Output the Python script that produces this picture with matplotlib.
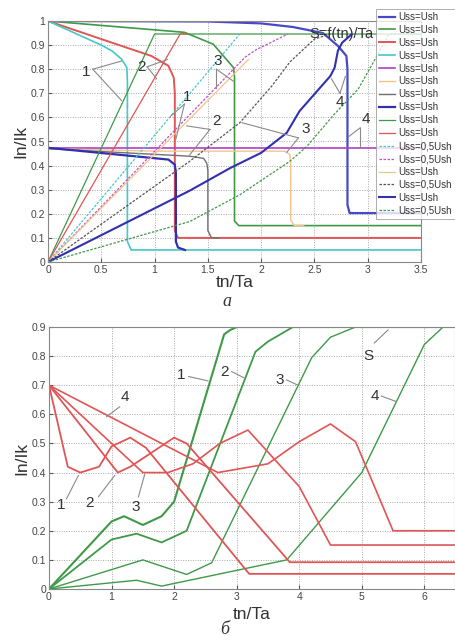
import matplotlib
matplotlib.use("Agg")
import matplotlib.pyplot as plt

plt.rcParams['font.family'] = ['Liberation Sans', 'DejaVu Sans']

# ---------------- data: panel a ----------------
a_blue_desc_x = [0, 1.5, 2.0, 2.3, 2.58, 2.72, 2.80, 2.81, 2.81, 2.83, 3.5]
a_blue_desc_y = [1.0, 0.998, 0.99, 0.975, 0.95, 0.897, 0.855, 0.80, 0.237, 0.203, 0.203]
a_green_desc_x = [0, 1.28, 1.55, 1.74, 1.75, 1.75, 1.79, 3.5]
a_green_desc_y = [1.0, 0.953, 0.904, 0.807, 0.77, 0.17, 0.151, 0.151]
a_red_desc_x = [0, 0.3, 0.6, 0.97, 1.13, 1.18, 1.19, 1.19, 1.22, 3.5]
a_red_desc_y = [1.0, 0.955, 0.91, 0.855, 0.814, 0.765, 0.70, 0.13, 0.10, 0.10]
a_cyan_desc_x = [0, 0.25, 0.5, 0.6, 0.69, 0.74, 0.745, 0.745, 0.78, 3.5]
a_cyan_desc_y = [1.0, 0.95, 0.9, 0.876, 0.842, 0.807, 0.75, 0.085, 0.05, 0.05]
a_purple_x = [0, 3.5]
a_purple_y = [0.474, 0.474]
a_orange_desc_x = [0, 1.0, 2.22, 2.27, 2.277, 2.277, 2.31, 2.4]
a_orange_desc_y = [0.47, 0.46, 0.46, 0.446, 0.41, 0.175, 0.151, 0.151]
a_gray_desc_x = [0, 1.33, 1.46, 1.49, 1.50, 1.50, 1.535, 1.6]
a_gray_desc_y = [0.47, 0.439, 0.43, 0.41, 0.38, 0.13, 0.10, 0.10]
a_dblue_desc_x = [0, 1.13, 1.19, 1.20, 1.20, 1.22, 1.285]
a_dblue_desc_y = [0.474, 0.425, 0.404, 0.37, 0.085, 0.06, 0.05]
a_green_rise_x = [0, 1.0, 3.5]
a_green_rise_y = [0, 0.946, 0.946]
a_red_rise_x = [0, 1.24, 1.3]
a_red_rise_y = [0, 0.946, 0.946]
a_cyan_dot_x = [0, 1.8]
a_cyan_dot_y = [0, 0.946]
a_mag_dot_x = [0, 1.85, 1.95, 2.25]
a_mag_dot_y = [0, 0.85, 0.88, 0.946]
a_orange_rise_x = [0, 1.88]
a_orange_rise_y = [0, 0.84]
a_gray_dot_x = [0, 1.33, 1.8, 2.1, 2.27, 2.5, 2.65]
a_gray_dot_y = [0, 0.418, 0.578, 0.73, 0.83, 0.925, 0.946]
a_blue_rise_x = [0, 1.33, 1.71, 2.0, 2.24, 2.36, 2.65, 2.69, 2.72, 2.76, 2.85]
a_blue_rise_y = [0, 0.296, 0.39, 0.453, 0.536, 0.626, 0.772, 0.807, 0.876, 0.91, 0.945]
a_green_dot_x = [0, 1.33, 1.8, 2.27, 2.43, 2.68, 2.91, 3.08, 3.2, 3.5]
a_green_dot_y = [0, 0.168, 0.279, 0.418, 0.48, 0.61, 0.717, 0.85, 0.946, 0.946]

legend_labels = ["Uss=Ush"] * 10 + ["Uss=0,5Ush", "Uss=0,5Ush", "Uss=Ush",
                                    "Uss=0,5Ush", "Uss=Ush", "Uss=0,5Ush"]

# ---------------- data: panel б ----------------
b_green1_x = [0, 1.0, 1.2, 1.5, 1.8, 2.0, 2.8, 2.9, 3.0, 6.5]
b_green1_y = [0, 0.232, 0.25, 0.22, 0.25, 0.30, 0.875, 0.89, 0.9, 0.9]
b_green2_x = [0, 1.0, 1.4, 1.8, 2.2, 3.3, 3.5, 3.9]
b_green2_y = [0, 0.17, 0.19, 0.16, 0.2, 0.815, 0.85, 0.9]
b_green3_x = [0, 1.5, 2.2, 2.6, 4.2, 4.5, 4.9]
b_green3_y = [0, 0.1, 0.05, 0.09, 0.795, 0.865, 0.9]
b_green4_x = [0, 1.4, 1.8, 3.8, 5.0, 6.0, 6.3]
b_green4_y = [0, 0.03, 0.01, 0.1, 0.4, 0.84, 0.9]

b_red1_x = [0, 0.3, 0.5, 0.8, 1.0, 1.3, 1.55, 3.2, 6.5]
b_red1_y = [0.7, 0.42, 0.40, 0.42, 0.49, 0.52, 0.485, 0.052, 0.052]
b_red2_x = [0, 1.1, 1.3, 2.0, 2.2, 3.85, 6.5]
b_red2_y = [0.7, 0.40, 0.42, 0.52, 0.50, 0.092, 0.092]
b_red3_x = [0, 1.5, 1.9, 2.3, 2.73, 3.18, 4.0, 4.5, 6.5]
b_red3_y = [0.7, 0.40, 0.40, 0.43, 0.50, 0.546, 0.352, 0.151, 0.151]
b_red4_x = [0, 2.7, 3.5, 4.0, 4.5, 4.9, 5.5, 6.5]
b_red4_y = [0.7, 0.40, 0.43, 0.506, 0.567, 0.506, 0.2, 0.2]

# ---------------- style ----------------
BLUE = "#4848c8"
DBLUE = "#3030b0"
GREEN = "#3f9a48"
RED = "#e05555"
CYAN = "#45c8c8"
PURPLE = "#b040c8"
MAG = "#c050c8"
ORANGE = "#f2c48a"
GRAY = "#707070"
LEAD = "#8a8a8a"
TXT = "#333333"

W, H = 455, 642
fig = plt.figure(figsize=(W / 100, H / 100), dpi=100)

def style_axes(ax):
    ax.grid(True, linestyle=(0, (1, 1.5)), color="#a8a8a8", linewidth=0.7)
    ax.tick_params(direction="in", length=3, labelsize=7.5, colors="#555555",
                   labelcolor="#444444", pad=2)
    for s in ax.spines.values():
        s.set_color("#888888")
        s.set_linewidth(0.8)

# ---------- panel a ----------
ax1 = fig.add_axes([48 / W, 1 - 262 / H, (421 - 48) / W, (262 - 21) / H])
series_a = [
    (a_blue_desc_x, a_blue_desc_y, BLUE, "-", 1.6),
    (a_green_desc_x, a_green_desc_y, GREEN, "-", 1.2),
    (a_red_desc_x, a_red_desc_y, RED, "-", 1.4),
    (a_cyan_desc_x, a_cyan_desc_y, CYAN, "-", 1.2),
    (a_purple_x, a_purple_y, PURPLE, "-", 1.2),
    (a_orange_desc_x, a_orange_desc_y, ORANGE, "-", 1.0),
    (a_gray_desc_x, a_gray_desc_y, GRAY, "-", 1.0),
    (a_dblue_desc_x, a_dblue_desc_y, DBLUE, "-", 1.6),
    (a_green_rise_x, a_green_rise_y, GREEN, "-", 0.9),
    (a_red_rise_x, a_red_rise_y, RED, "-", 0.9),
    (a_cyan_dot_x, a_cyan_dot_y, CYAN, (0, (2, 1.2)), 0.9),
    (a_mag_dot_x, a_mag_dot_y, MAG, (0, (2, 1.2)), 0.9),
    (a_orange_rise_x, a_orange_rise_y, ORANGE, "-", 0.9),
    (a_gray_dot_x, a_gray_dot_y, "#555555", (0, (2, 1.2)), 0.9),
    (a_blue_rise_x, a_blue_rise_y, DBLUE, "-", 1.5),
    (a_green_dot_x, a_green_dot_y, GREEN, (0, (2, 1.2)), 0.9),
]
handles = []
for (xs, ys, c, ls, lw), lab in zip(series_a, legend_labels):
    ln, = ax1.plot(xs, ys, color=c, linestyle=ls, linewidth=lw, label=lab)
    handles.append(ln)

ax1.set_xlim(0, 3.5)
ax1.set_ylim(0, 1)
ax1.set_xticks([0, 0.5, 1, 1.5, 2, 2.5, 3, 3.5])
ax1.set_xticklabels(["0", "0.5", "1", "1.5", "2", "2.5", "3", "3.5"])
ax1.set_yticks([i / 10 for i in range(11)])
ax1.set_yticklabels(["0", "0.1", "0.2", "0.3", "0.4", "0.5", "0.6", "0.7", "0.8", "0.9", "1"])
style_axes(ax1)
ax1.set_xlabel("tn/Ta", fontsize=12.5, color=TXT, labelpad=0)
ax1.set_ylabel("In/Ik", fontsize=12.5, color=TXT, labelpad=2)

leg = ax1.legend(handles=handles, loc="upper left",
                 bbox_to_anchor=(376 / W, 1 - 9 / H), bbox_transform=fig.transFigure,
                 fontsize=7, labelspacing=0.3, handlelength=1.7, handletextpad=0.3,
                 borderpad=0.3, borderaxespad=0, frameon=True, fancybox=False)
leg.get_frame().set_edgecolor("#999999")
leg.get_frame().set_linewidth(0.7)
for t in leg.get_texts():
    t.set_color(TXT)

def leader(ax, start, ends):
    for e in ends:
        ax.plot([start[0], e[0]], [start[1], e[1]], color=LEAD, lw=0.8, zorder=5)

tk = dict(fontsize=11, color=TXT, ha="center", va="center", zorder=6)
ax1.text(0.36, 0.79, "1", **tk)
leader(ax1, (0.42, 0.80), [(0.69, 0.834), (0.69, 0.67)])
ax1.text(0.88, 0.81, "2", **tk)
leader(ax1, (0.93, 0.81), [(1.12, 0.84), (1.02, 0.76)])
ax1.text(1.31, 0.685, "1", **tk)
leader(ax1, (1.28, 0.655), [(1.15, 0.605), (1.2, 0.51)])
ax1.text(1.58, 0.585, "2", **tk)
leader(ax1, (1.52, 0.55), [(1.3, 0.565), (1.33, 0.445)])
ax1.text(1.59, 0.835, "3", **tk)
leader(ax1, (1.58, 0.80), [(1.74, 0.75), (1.58, 0.72)])
ax1.text(2.42, 0.55, "3", **tk)
leader(ax1, (2.35, 0.515), [(1.82, 0.578), (2.24, 0.455)])
ax1.text(2.74, 0.665, "4", **tk)
leader(ax1, (2.74, 0.70), [(2.66, 0.76), (2.79, 0.77)])
ax1.text(2.98, 0.595, "4", **tk)
leader(ax1, (2.93, 0.557), [(2.82, 0.52), (2.93, 0.475)])
ax1.text(2.75, 0.948, "S=f(tn)/Ta", fontsize=10.5, color=TXT, ha="center",
         va="center", zorder=6)

fig.text(227 / W, 1 - 301 / H, "а", fontsize=13, style="italic",
         family="Liberation Serif", color=TXT, ha="center", va="center")

# ---------- panel б ----------
ax2 = fig.add_axes([49 / W, 1 - 589 / H, (455 - 49) / W, (589 - 327) / H])
greens = [
    (b_green1_x, b_green1_y, 1.5),
    (b_green2_x, b_green2_y, 1.3),
    (b_green3_x, b_green3_y, 1.0),
    (b_green4_x, b_green4_y, 1.0),
]
for xs, ys, lw in greens:
    ax2.plot(xs, ys, color=GREEN, linewidth=lw)
reds = [
    (b_red1_x, b_red1_y, 1.3),
    (b_red2_x, b_red2_y, 1.3),
    (b_red3_x, b_red3_y, 1.2),
    (b_red4_x, b_red4_y, 1.2),
]
for xs, ys, lw in reds:
    ax2.plot(xs, ys, color=RED, linewidth=lw)

ax2.set_xlim(0, 6.49)
ax2.set_ylim(0, 0.9)
ax2.set_xticks([0, 1, 2, 3, 4, 5, 6])
ax2.set_yticks([i / 10 for i in range(10)])
ax2.set_yticklabels(["0", "0.1", "0.2", "0.3", "0.4", "0.5", "0.6", "0.7", "0.8", "0.9"])
style_axes(ax2)
ax2.set_xlabel("tn/Ta", fontsize=12.5, color=TXT, labelpad=4)
ax2.set_ylabel("In/Ik", fontsize=12.5, color=TXT, labelpad=2)

ax2.text(0.2, 0.29, "1", **tk)
leader(ax2, (0.28, 0.31), [(0.47, 0.39)])
ax2.text(0.65, 0.294, "2", **tk)
leader(ax2, (0.79, 0.317), [(1.05, 0.39)])
ax2.text(1.38, 0.283, "3", **tk)
leader(ax2, (1.43, 0.317), [(1.53, 0.394)])
ax2.text(1.21, 0.66, "4", **tk)
leader(ax2, (1.13, 0.626), [(0.92, 0.592)])
ax2.text(2.12, 0.735, "1", **tk)
leader(ax2, (2.23, 0.73), [(2.54, 0.715)])
ax2.text(2.81, 0.747, "2", **tk)
leader(ax2, (2.92, 0.747), [(3.13, 0.724)])
ax2.text(3.69, 0.718, "3", **tk)
leader(ax2, (3.8, 0.718), [(3.98, 0.70)])
ax2.text(5.21, 0.663, "4", **tk)
leader(ax2, (5.31, 0.663), [(5.55, 0.644)])
ax2.text(5.1, 0.8, "S", **tk)
leader(ax2, (5.2, 0.845), [(5.42, 0.89)])

fig.text(225 / W, 1 - 630 / H, "б", fontsize=13, style="italic",
         family="Liberation Serif", color=TXT, ha="center", va="center")

fig.savefig("out.png", dpi=100)
